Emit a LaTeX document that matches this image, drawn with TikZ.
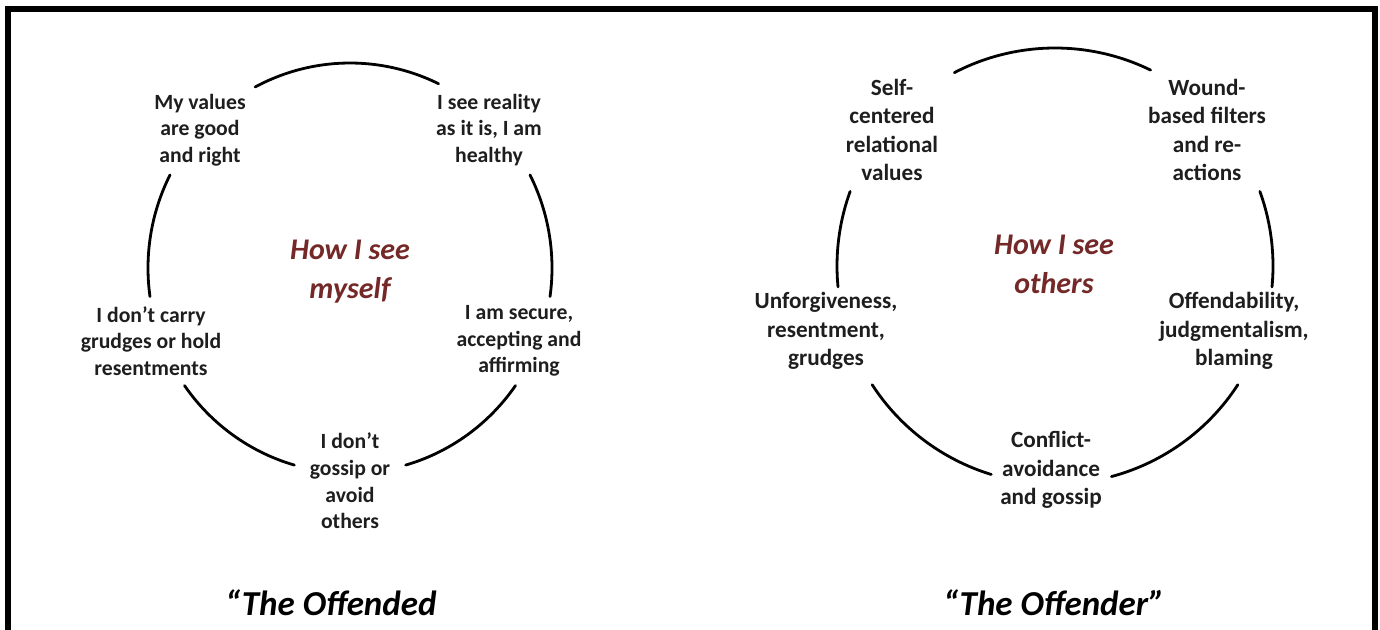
\documentclass[tikz,border=0pt]{standalone}
\usepackage{fontspec}
\setmainfont{Carlito}
\definecolor{ink}{HTML}{1E1E1E}
\definecolor{hubred}{HTML}{742828}
\begin{document}
\begin{tikzpicture}[x=1pt,y=-1pt,
  ring/.style={line width=2.8pt, black, line cap=round},
  frame/.style={line width=6pt, black},
  itemL/.style={font=\bfseries\fontsize{21.7}{26.7}\selectfont, text=ink, align=center, inner sep=0pt},
  itemR/.style={font=\bfseries\fontsize{23.2}{28.3}\selectfont, text=ink, align=center, inner sep=0pt},
  hub/.style={font=\bfseries\itshape\fontsize{30}{39}\selectfont, text=hubred, align=center, inner sep=0pt},
  caption/.style={font=\bfseries\itshape\fontsize{35}{40}\selectfont, text=black, anchor=base, inner sep=0pt}
]
% page and clipping
\clip (0,0) rectangle (1380,629);
\fill[white] (0,0) rectangle (1380,629);
% open-bottom frame
\draw[frame] (7.5,640) -- (7.5,8.5) -- (1374.5,8.5) -- (1374.5,640);

% ---------- left cycle ----------
\coordinate (cL) at (350,268);
\foreach \a/\b in {64/118, 153/188, -8/27, 215/254, -74/-35}{
  \draw[ring] ([shift={(cL)}]\a:202pt and 205pt)
    arc[start angle=\a, end angle=\b, x radius=202pt, y radius=205pt];
}
\node[itemL] (values)  at (200,130) {My values\\are good\\and right};
\node[itemL] (reality) at (489,130) {I see reality\\as it is, I am\\healthy};
\node[itemL] (secure)  at (519,341) {I am secure,\\accepting and\\affirming};
\node[itemL] (gossipL) at (350,481) {I don’t\\gossip or\\avoid\\others};
\node[itemL] (grudgeL) at (151,341) {I don’t carry\\grudges or hold\\resentments};
\node[hub]   (self)    at (350,272) {How I see\\myself};
\node[caption] (offended) at (331,615) {“The Offended};

% ---------- right cycle ----------
\coordinate (cR) at (1055,266);
\foreach \a/\b in {64/117.5, 160/185.5, -5.5/20, 213/253, -75/-33}{
  \draw[ring] ([shift={(cR)}]\a:218pt)
    arc[start angle=\a, end angle=\b, radius=218pt];
}
\node[itemR] (selfc)   at (892,130) {Self-\\centered\\relational\\values};
\node[itemR] (wound)   at (1207,130) {Wound-\\based filters\\and re-\\actions};
\node[itemR] (offend)  at (1234,331) {Offendability,\\judgmentalism,\\blaming};
\node[itemR] (conflict) at (1051,470) {Conflict-\\avoidance\\and gossip};
\node[itemR] (unforg)  at (826,331) {Unforgiveness,\\resentment,\\grudges};
\node[hub]   (others)  at (1054,264) {How I see\\others};
\node[caption] (offender) at (1054,615) {“The Offender”};
\end{tikzpicture}
\end{document}
